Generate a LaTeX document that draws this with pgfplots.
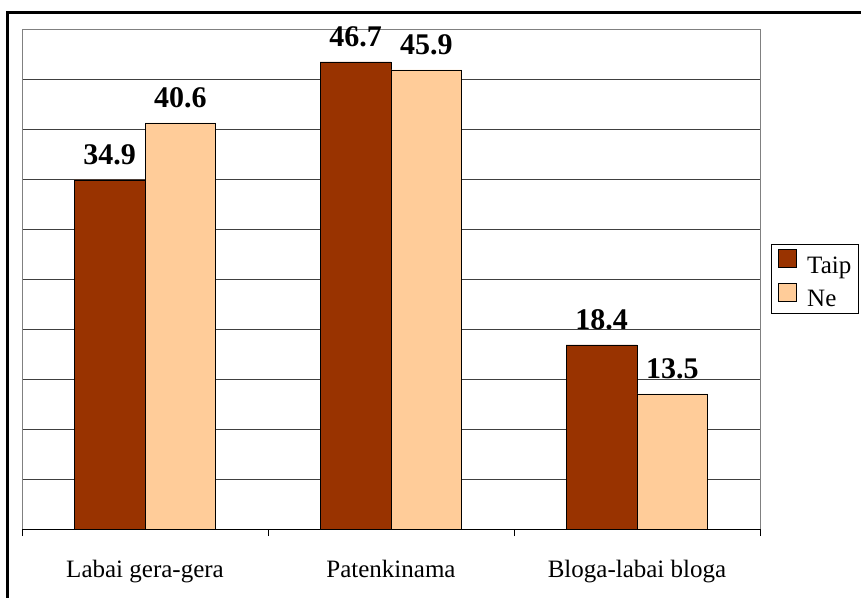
\documentclass[border=0pt]{standalone}
\usepackage{fontspec}
\setmainfont{Liberation Serif}
\usepackage{pgfplots}
\pgfplotsset{compat=1.18}
\definecolor{taip}{HTML}{993300}
\definecolor{ne}{HTML}{FFCC99}
\definecolor{gridc}{HTML}{404040}

\begin{document}
\begin{tikzpicture}
\useasboundingbox (0pt,0pt) rectangle (861pt,597pt);
% outer frame (runs off the right and bottom edges)
\draw[line width=3pt] (7pt,-10pt) -- (7pt,584pt) -- (875pt,584pt);
\begin{axis}[
    at={(22pt,68pt)}, anchor=south west,
    scale only axis, width=738pt, height=500pt,
    ybar=0pt, bar width=0.288,
    xmin=-0.5, xmax=2.5, ymin=0, ymax=50,
    xtick={0,1,2},
    xticklabels={Labai gera-gera, Patenkinama, Bloga-labai bloga},
    extra x ticks={-0.5,0.5,1.5,2.5},
    extra x tick labels={},
    extra x tick style={major tick length=7pt},
    major tick length=0pt,
    tick align=outside,
    xtick pos=left,
    ytick={0,5,...,50}, yticklabels={},
    ymajorgrids,
    major grid style={gridc, line width=0.8pt},
    axis line style={gray, line width=0.8pt},
    tick style={black, line width=0.8pt},
    xticklabel style={font=\fontsize{25}{30}\selectfont, inner sep=0pt, yshift=-31pt},
    /pgf/number format/assume math mode=true,
    /pgf/number format/fixed,
    /pgf/number format/precision=1,
    /pgf/number format/fixed zerofill,
    nodes near coords,
    nodes near coords style={font=\fontsize{30}{36}\selectfont\bfseries, anchor=south, inner sep=0pt, yshift=15pt, black},
    legend style={at={(1,0.570)}, anchor=north west, xshift=11pt, draw=black, line width=0.8pt,
        inner xsep=7pt, inner ysep=5pt, row sep=8pt,
        nodes={inner sep=0pt},
        /tikz/every odd column/.append style={column sep=10pt}},
    legend cell align=left,
    legend image code/.code={\draw[#1, draw=black, line width=0.8pt] (0pt,-2pt) rectangle (18pt,16pt);},
]
\addplot[fill=taip, draw=black, line width=0.8pt] coordinates {(0,34.9) (1,46.7) (2,18.4)};
\addplot[fill=ne, draw=black, line width=0.8pt] coordinates {(0,40.6) (1,45.9) (2,13.5)};
\legend{\fontsize{25}{30}\selectfont Taip, \fontsize{25}{30}\selectfont Ne}
\draw[black, line width=0.8pt] (rel axis cs:0,0) -- (rel axis cs:1,0);
\end{axis}
\end{tikzpicture}
\end{document}
